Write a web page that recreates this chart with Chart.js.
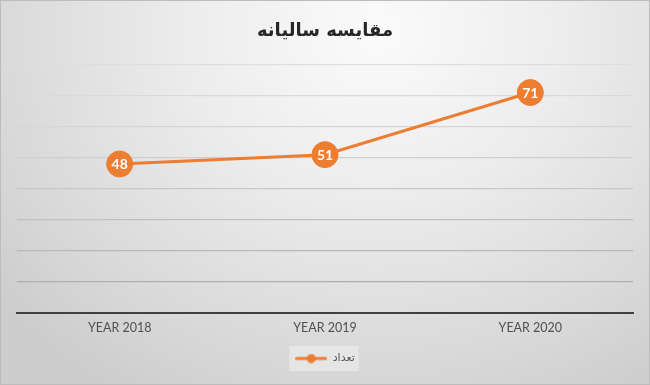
<!DOCTYPE html>
<html>
<head>
<meta charset="utf-8">
<script src="https://cdn.jsdelivr.net/npm/chart.js@4/dist/chart.umd.min.js"></script>
<style>
  html, body { margin: 0; padding: 0; }
  body { width: 650px; height: 385px; overflow: hidden; }
  #wrap {
    position: relative; width: 648px; height: 383px;
    border: 1px solid #bcbcbc;
    background: radial-gradient(ellipse 75% 110% at 58% 8%, #fbfbfb 0%, #ececec 40%, #d8d8d8 80%, #cdcdcd 100%);
  }
  canvas { display: block; }
</style>
</head>
<body>
<div id="wrap"><canvas id="c" width="648" height="383"></canvas></div>
<script>
const chartTitle = "مقایسه سالیانه";
const categories = ["YEAR 2018", "YEAR 2019", "YEAR 2020"];
const seriesName = "تعداد";
const seriesValues = [48, 51, 71];
const yMin = 0, yMax = 80, yStep = 10;

const ORANGE = "#ED7D31";

// legend sample: line with marker
const legendImg = document.createElement("canvas");
legendImg.width = 32; legendImg.height = 10;
(function () {
  const g = legendImg.getContext("2d");
  g.strokeStyle = ORANGE; g.lineWidth = 3; g.lineCap = "round";
  g.beginPath(); g.moveTo(1.5, 5); g.lineTo(30.5, 5); g.stroke();
  g.fillStyle = ORANGE;
  g.beginPath(); g.arc(16, 5, 4.5, 0, Math.PI * 2); g.fill();
})();

const gridShades = ["#a9a9a9", "#b0b0b0", "#b8b8b8", "#c0c0c0", "#c8c8c8", "#cfcfcf", "#d5d5d5", "#dadada", "#dedede"];

const dataLabelPlugin = {
  id: "dataLabels",
  afterDatasetsDraw(chart) {
    const ctx = chart.ctx;
    chart.data.datasets.forEach((ds, i) => {
      const meta = chart.getDatasetMeta(i);
      meta.data.forEach((el, j) => {
        ctx.save();
        ctx.font = "bold 14px Lato, 'Liberation Sans', sans-serif";
        ctx.fillStyle = "#ffffff";
        ctx.textAlign = "center";
        ctx.textBaseline = "middle";
        ctx.fillText(String(ds.data[j]), el.x, el.y + 1);
        ctx.restore();
      });
    });
  }
};

const legendBgPlugin = {
  id: "legendBg",
  beforeDraw(chart) {
    const lg = chart.legend;
    if (!lg || !lg.legendHitBoxes || !lg.legendHitBoxes.length) return;
    const hb = lg.legendHitBoxes[0];
    const ctx = chart.ctx;
    ctx.save();
    ctx.fillStyle = "rgba(240,240,240,0.55)";
    ctx.fillRect(hb.left - 6, hb.top - 7, hb.width + 10, hb.height + 14);
    ctx.restore();
  }
};

new Chart(document.getElementById("c"), {
  type: "line",
  data: {
    labels: categories,
    datasets: [{
      label: seriesName,
      data: seriesValues,
      borderColor: ORANGE,
      backgroundColor: ORANGE,
      borderWidth: 3,
      pointRadius: 13,
      pointHoverRadius: 13,
      pointBackgroundColor: ORANGE,
      pointBorderColor: ORANGE,
      pointBorderWidth: 1,
      tension: 0
    }]
  },
  options: {
    responsive: false,
    animation: false,
    events: [],
    layout: { padding: { left: 16, right: 16, top: 8, bottom: 10 } },
    scales: {
      x: {
        offset: true,
        grid: { display: false, drawTicks: false },
        border: { display: true, color: "#404040", width: 2 },
        ticks: { color: "#505050", padding: 7, font: { family: "Lato, 'Liberation Sans', sans-serif", size: 12.5 } }
      },
      y: {
        min: yMin, max: yMax,
        ticks: { display: false, stepSize: yStep },
        border: { display: false },
        grid: {
          drawTicks: false,
          lineWidth: 1.2,
          color: (c) => gridShades[c.index] || "#d0d0d0"
        }
      }
    },
    plugins: {
      title: {
        display: true,
        text: chartTitle,
        color: "#262626",
        font: { family: "'DejaVu Sans', sans-serif", size: 18, weight: "bold" },
        padding: { top: 12, bottom: 22 }
      },
      legend: {
        position: "bottom",
        labels: {
          usePointStyle: true,
          pointStyleWidth: 32,
          color: "#595959",
          font: { family: "'DejaVu Sans', sans-serif", size: 11 },
          padding: 11,
          generateLabels(chart) {
            const items = Chart.defaults.plugins.legend.labels.generateLabels(chart);
            items.forEach(it => { it.pointStyle = legendImg; });
            return items;
          }
        }
      },
      tooltip: { enabled: false }
    }
  },
  plugins: [legendBgPlugin, dataLabelPlugin]
});
</script>
</body>
</html>
